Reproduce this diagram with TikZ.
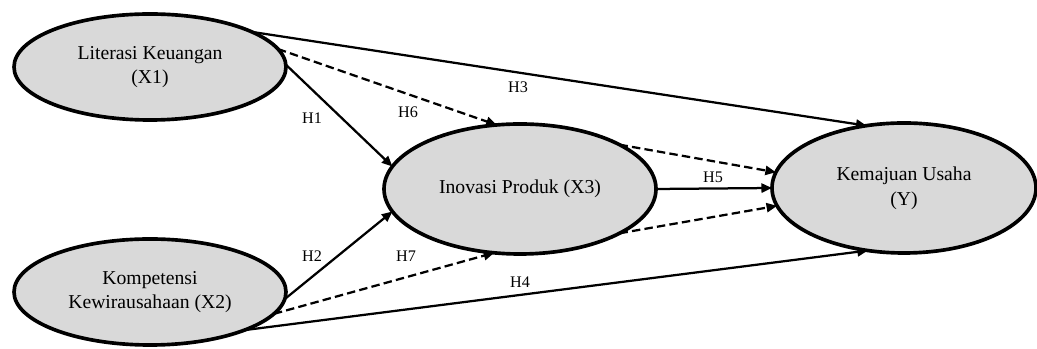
\documentclass[tikz,border=0pt]{standalone}
\usepackage{fontspec}
\setmainfont{Liberation Serif}
\usetikzlibrary{shapes.geometric,arrows.meta}

\tikzset{
  var/.style={ellipse, draw=black, line width=2.6pt, fill=gray!30,
    inner sep=0pt, outer sep=0pt, align=center,
    font=\fontsize{14}{17.5}\selectfont},
  path/.style={line width=1.6pt, -{Triangle[length=7.5pt,width=6.5pt]}},
  indirect/.style={path, dash pattern=on 6pt off 3pt},
  hyp/.style={font=\fontsize{11.5}{13}\selectfont, inner sep=1pt}
}

\begin{document}
\begin{tikzpicture}
    \useasboundingbox (0,0) rectangle (25.925,8.725); % keeps the page size fixed

    % latent variables
    \node[var, minimum width=6.8cm, minimum height=2.65cm] (x1) at (3.75,7.05) {Literasi Keuangan\\(X1)};
    \node[var, minimum width=6.8cm, minimum height=2.65cm] (x2) at (3.75,1.425) {Kompetensi\\Kewirausahaan (X2)};
    \node[var, minimum width=6.8cm, minimum height=3.25cm] (x3) at (13.0,4.0) {Inovasi Produk (X3)};
    \node[var, minimum width=6.6cm, minimum height=3.25cm] (y) at (22.6,4.025) {Kemajuan Usaha\\(Y)};

    % direct paths
    \draw[path] (x1.1) -- (x3.170);
    \draw[path] (x2.-3) -- (x3.190);
    \draw[path] (x1.19) -- (y.121);
    \draw[path] (x2.-22) -- (y.240);
    \draw[path] (x3.east) -- (y.west);

    % mediated paths
    \draw[indirect] (x1.8) -- (x3.110);
    \draw[indirect] (x2.-10) -- (x3.248);
    \draw[indirect] (x3.24) -- (y.173);
    \draw[indirect] (x3.-24) -- (y.188);

    % hypothesis labels
    \node[hyp] (h1) at (7.8,5.775) {H1};
    \node[hyp] (h2) at (7.8,2.325) {H2};
    \node[hyp] (h3) at (12.95,6.55) {H3};
    \node[hyp] (h4) at (13.0,1.675) {H4};
    \node[hyp] (h5) at (17.825,4.3) {H5};
    \node[hyp] (h6) at (10.2,5.925) {H6};
    \node[hyp] (h7) at (10.15,2.325) {H7};
\end{tikzpicture}
\end{document}
